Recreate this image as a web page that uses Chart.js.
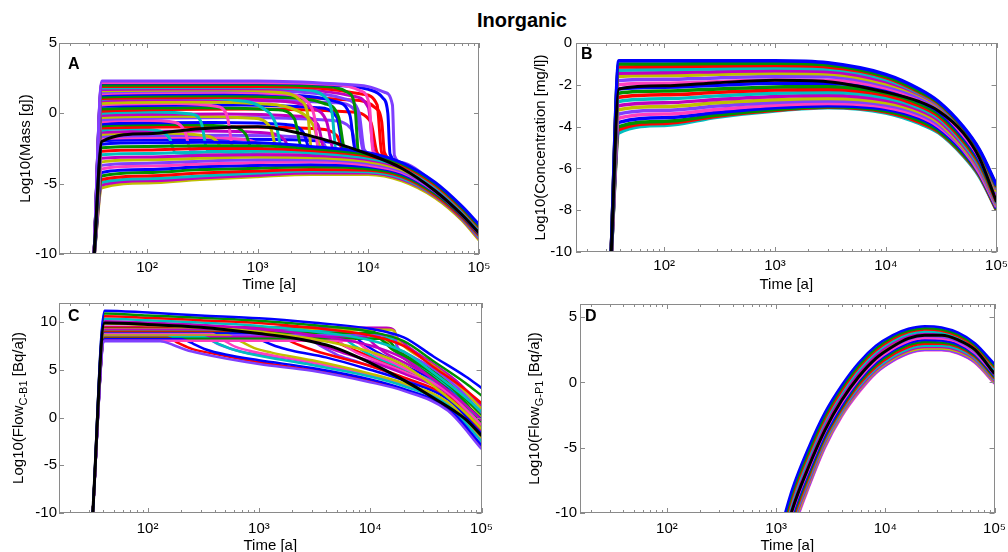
<!DOCTYPE html>
<html>
<head>
<meta charset="utf-8">
<script src="https://cdn.jsdelivr.net/npm/chart.js@4.4.1/dist/chart.umd.min.js"></script>
<style>
  html, body { margin: 0; padding: 0; background: #fff; overflow: hidden; }
  #page { position: relative; width: 1008px; height: 552px; overflow: hidden; font-family: 'Liberation Sans', Arial, sans-serif; }
  #title { position: absolute; left: 422px; top: 8px; width: 200px; text-align: center; font-weight: bold; font-size: 20px; line-height: 24px; color: #000; }
  canvas { position: absolute; }
</style>
</head>
<body>
<div id="page">
  <div id="title">Inorganic</div>
  <canvas id="chartA" width="500" height="270" style="left:0;top:30px"></canvas>
  <canvas id="chartB" width="513" height="270" style="left:500px;top:30px"></canvas>
  <canvas id="chartC" width="500" height="270" style="left:0;top:290px"></canvas>
  <canvas id="chartD" width="513" height="270" style="left:500px;top:290px"></canvas>
</div>
<script>
// x axis (time) ticks and labels
const timeTicks = [20, 30, 40, 50, 60, 70, 80, 90, 100, 200, 300, 400, 500, 600, 700, 800, 900,
  1000, 2000, 3000, 4000, 5000, 6000, 7000, 8000, 9000, 10000, 20000, 30000, 40000, 50000,
  60000, 70000, 80000, 90000, 100000];
const timeLabels = { 100: '10²', 1000: '10³', 10000: '10⁴', 100000: '10⁵' };

const yTicksA = [-10, -5, 0, 5];
const yTicksB = [-10, -8, -6, -4, -2, 0];
const yTicksC = [-10, -5, 0, 5, 10];
const yTicksD = [-10, -5, 0, 5];

const palette = ['#0000ff', '#009000', '#ff0000', '#00bfbf', '#bf00bf', '#bfbf00', '#7f3fff', '#ff3fbf'];

// ---- Panel A : Log10(Mass [g]) ----
const meanATime = [33, 39, 100, 300, 1000, 3000, 10000, 20000, 40000, 70000, 100000];
const meanAValue = [-10.5, -2.0, -1.45, -1.1, -0.95, -1.6, -2.9, -3.9, -5.5, -7.2, -8.5];

const timeA = [33, 39, 100, 300, 1000, 3000, 10000, 20000, 40000, 70000, 100000];
const lowerA = [
  [-10.5, -2.2, -2.1, -2.05, -2.1, -2.35, -2.8, -3.5, -4.9, -6.6, -7.9],
  [-10.5, -2.45, -2.35, -2.3, -2.3, -2.5, -2.95, -3.6, -5.0, -6.7, -8.0],
  [-10.5, -2.7, -2.6, -2.5, -2.5, -2.65, -3.05, -3.7, -5.1, -6.8, -8.1],
  [-10.5, -2.95, -2.85, -2.75, -2.7, -2.8, -3.2, -3.8, -5.2, -6.9, -8.2],
  [-10.5, -3.2, -3.1, -3.0, -2.95, -3.0, -3.3, -3.9, -5.3, -7.0, -8.3],
  [-10.5, -3.45, -3.3, -3.2, -3.1, -3.15, -3.45, -4.0, -5.4, -7.05, -8.35],
  [-10.5, -3.7, -3.55, -3.4, -3.3, -3.3, -3.55, -4.1, -5.5, -7.1, -8.4],
  [-10.5, -3.95, -3.75, -3.6, -3.5, -3.45, -3.7, -4.2, -5.55, -7.2, -8.5],
  [-10.5, -4.2, -4.0, -3.8, -3.7, -3.65, -3.8, -4.3, -5.6, -7.25, -8.55],
  [-10.5, -4.45, -4.2, -4.0, -3.9, -3.8, -3.95, -4.4, -5.7, -7.3, -8.6],
  [-10.5, -4.7, -4.45, -4.25, -4.1, -4.0, -4.05, -4.5, -5.8, -7.4, -8.7],
  [-10.5, -4.9, -4.65, -4.45, -4.25, -4.1, -4.15, -4.6, -5.85, -7.45, -8.8],
  [-10.5, -5.1, -4.8, -4.6, -4.4, -4.25, -4.25, -4.7, -5.9, -7.5, -8.9],
  [-10.5, -5.3, -4.95, -4.7, -4.5, -4.35, -4.35, -4.8, -6.0, -7.6, -9.0]
];
// high curves that fall off late: [time, value] pairs
const upperA = [
  [[33, -10.5], [39, 2.3], [1000, 2.3], [5000, 2.1], [10000, 1.9], [14000, 1.5], [16500, 0.6], [17200, -3.0], [20000, -3.5], [40000, -5.0], [70000, -6.7], [100000, -8.0]],
  [[33, -10.5], [39, 2.2], [1000, 2.2], [5000, 2.05], [8500, 1.6], [10200, 0.6], [11000, -2.7], [20000, -3.7], [40000, -5.2], [70000, -6.9], [100000, -8.2]],
  [[33, -10.5], [39, 2.15], [1000, 2.15], [5000, 2.0], [10000, 1.7], [13500, 1.1], [15000, 0.0], [15700, -2.9], [20000, -3.6], [40000, -5.1], [70000, -6.8], [100000, -8.1]],
  [[33, -10.5], [39, 2.0], [1000, 2.05], [4000, 1.9], [6500, 1.5], [7600, 0.3], [8100, -2.6], [10000, -2.9], [20000, -3.7], [40000, -5.2], [70000, -6.9], [100000, -8.2]],
  [[33, -10.5], [39, 1.9], [1000, 1.9], [4000, 1.75], [9000, 1.35], [12000, 0.6], [13200, -2.8], [20000, -3.7], [40000, -5.2], [70000, -6.9], [100000, -8.2]],
  [[33, -10.5], [39, 1.8], [800, 1.85], [2500, 1.7], [4000, 1.2], [4700, 0.0], [5100, -2.5], [10000, -2.95], [20000, -3.8], [40000, -5.25], [70000, -6.95], [100000, -8.25]],
  [[33, -10.5], [39, 1.7], [800, 1.75], [3000, 1.65], [7000, 1.25], [10000, 0.4], [11200, -2.7], [20000, -3.8], [40000, -5.3], [70000, -7.0], [100000, -8.3]],
  [[33, -10.5], [39, 1.6], [500, 1.65], [1500, 1.5], [2400, 0.95], [2850, -0.2], [3050, -2.5], [10000, -3.0], [20000, -3.85], [40000, -5.3], [70000, -7.0], [100000, -8.3]],
  [[33, -10.5], [39, 1.5], [600, 1.6], [2500, 1.5], [6000, 1.05], [8200, 0.1], [9200, -2.6], [20000, -3.9], [40000, -5.4], [70000, -7.1], [100000, -8.4]],
  [[33, -10.5], [39, 1.4], [500, 1.5], [1800, 1.35], [2900, 0.7], [3300, -0.5], [3500, -2.5], [10000, -3.0], [20000, -3.85], [40000, -5.3], [70000, -7.0], [100000, -8.35]],
  [[33, -10.5], [39, 1.3], [500, 1.4], [2000, 1.3], [5000, 0.85], [6800, -0.1], [7600, -2.6], [10000, -2.9], [20000, -3.9], [40000, -5.35], [70000, -7.05], [100000, -8.35]],
  [[33, -10.5], [39, 1.15], [400, 1.25], [1500, 1.15], [4000, 0.7], [5400, -0.3], [6100, -2.5], [10000, -2.95], [20000, -3.8], [40000, -5.3], [70000, -7.0], [100000, -8.3]],
  [[33, -10.5], [39, 1.05], [1000, 1.15], [7000, 0.95], [11500, 0.4], [13200, -0.6], [14000, -2.8], [20000, -3.7], [40000, -5.2], [70000, -6.9], [100000, -8.2]],
  [[33, -10.5], [39, 1.0], [200, 1.1], [600, 0.95], [1100, 0.4], [1450, -0.7], [1650, -2.4], [10000, -3.05], [20000, -3.9], [40000, -5.4], [70000, -7.1], [100000, -8.4]],
  [[33, -10.5], [39, 0.9], [300, 1.0], [1200, 0.9], [3200, 0.35], [4200, -0.6], [4800, -2.5], [10000, -3.0], [20000, -3.85], [40000, -5.3], [70000, -7.0], [100000, -8.35]],
  [[33, -10.5], [39, 0.7], [250, 0.8], [900, 0.7], [2400, 0.1], [3200, -0.9], [3700, -2.4], [10000, -3.1], [20000, -3.9], [40000, -5.35], [70000, -7.05], [100000, -8.4]]
];
// middle curves that arc down at mixed times: [time, value] pairs
const middleA = [
  [[33, -10.5], [39, 0.85], [1000, 0.95], [5000, 0.75], [7800, 0.1], [9000, -2.7], [20000, -3.8], [40000, -5.3], [70000, -7.0], [100000, -8.3]],
  [[33, -10.5], [39, 0.6], [180, 0.7], [420, 0.5], [530, -0.2], [600, -2.5], [10000, -3.0], [20000, -3.85], [40000, -5.3], [70000, -7.0], [100000, -8.35]],
  [[33, -10.5], [39, 0.5], [700, 0.6], [3500, 0.4], [5200, -0.3], [6000, -2.6], [10000, -2.95], [20000, -3.85], [40000, -5.3], [70000, -7.0], [100000, -8.35]],
  [[33, -10.5], [39, 0.3], [300, 0.4], [1500, 0.25], [2150, -0.4], [2500, -2.5], [10000, -3.05], [20000, -3.9], [40000, -5.35], [70000, -7.05], [100000, -8.4]],
  [[33, -10.5], [39, 0.15], [1000, 0.3], [7000, 0.1], [10500, -0.6], [12000, -2.8], [20000, -3.75], [40000, -5.25], [70000, -6.95], [100000, -8.3]],
  [[33, -10.5], [39, 0.0], [110, 0.1], [250, -0.05], [310, -0.7], [350, -2.6], [10000, -3.1], [20000, -3.95], [40000, -5.4], [70000, -7.1], [100000, -8.45]],
  [[33, -10.5], [39, -0.15], [500, -0.05], [2400, -0.2], [3500, -0.8], [4000, -2.6], [10000, -3.0], [20000, -3.9], [40000, -5.35], [70000, -7.05], [100000, -8.4]],
  [[33, -10.5], [39, -0.3], [200, -0.2], [900, -0.35], [1300, -1.0], [1500, -2.6], [10000, -3.1], [20000, -3.95], [40000, -5.4], [70000, -7.1], [100000, -8.45]],
  [[33, -10.5], [39, -0.45], [800, -0.3], [4500, -0.5], [7000, -1.1], [8000, -2.7], [20000, -3.85], [40000, -5.3], [70000, -7.0], [100000, -8.35]],
  [[33, -10.5], [39, -0.6], [90, -0.5], [180, -0.65], [220, -1.3], [250, -2.7], [10000, -3.15], [20000, -4.0], [40000, -5.45], [70000, -7.15], [100000, -8.5]],
  [[33, -10.5], [39, -0.75], [400, -0.65], [1800, -0.8], [2600, -1.4], [3000, -2.7], [10000, -3.1], [20000, -3.95], [40000, -5.4], [70000, -7.1], [100000, -8.45]],
  [[33, -10.5], [39, -0.9], [150, -0.8], [550, -0.95], [780, -1.5], [900, -2.7], [10000, -3.15], [20000, -4.0], [40000, -5.45], [70000, -7.15], [100000, -8.5]],
  [[33, -10.5], [39, -1.05], [600, -0.95], [3500, -1.1], [5200, -1.6], [6000, -2.8], [10000, -3.05], [20000, -3.9], [40000, -5.35], [70000, -7.05], [100000, -8.4]],
  [[33, -10.5], [39, -1.2], [70, -1.1], [130, -1.25], [160, -1.8], [180, -2.8], [10000, -3.2], [20000, -4.05], [40000, -5.5], [70000, -7.2], [100000, -8.55]],
  [[33, -10.5], [39, -1.35], [300, -1.25], [1200, -1.4], [1750, -1.9], [2000, -2.8], [10000, -3.15], [20000, -4.0], [40000, -5.45], [70000, -7.15], [100000, -8.5]],
  [[33, -10.5], [39, -1.5], [120, -1.4], [300, -1.55], [430, -2.0], [500, -2.9], [10000, -3.2], [20000, -4.05], [40000, -5.5], [70000, -7.2], [100000, -8.55]],
  [[33, -10.5], [39, -1.65], [500, -1.55], [2700, -1.7], [3900, -2.1], [4500, -2.9], [10000, -3.1], [20000, -3.95], [40000, -5.4], [70000, -7.1], [100000, -8.45]],
  [[33, -10.5], [39, -1.8], [200, -1.7], [700, -1.85], [1050, -2.3], [1200, -3.0], [10000, -3.25], [20000, -4.1], [40000, -5.55], [70000, -7.25], [100000, -8.6]],
  [[33, -10.5], [39, -1.95], [800, -1.85], [4000, -2.0], [6000, -2.4], [7000, -3.0], [20000, -3.95], [40000, -5.4], [70000, -7.1], [100000, -8.45]]
];

// ---- Panel B : Log10(Concentration [mg/l]) ----
const meanBTime = [33, 39, 100, 300, 1000, 3000, 10000, 20000, 30000, 50000, 70000, 100000];
const meanBValue = [-10.5, -2.2, -2.05, -1.9, -1.78, -1.85, -2.35, -2.8, -3.25, -4.3, -5.5, -7.6];

const timeB = [33, 39, 100, 300, 1000, 3000, 10000, 20000, 30000, 50000, 70000, 100000];
const curvesB = [
  [-10.5, -0.85, -0.85, -0.85, -0.85, -0.95, -1.5, -2.2, -2.8, -4.0, -5.1, -6.8],
  [-10.5, -1.0, -1.0, -0.98, -0.97, -1.05, -1.6, -2.3, -2.85, -4.05, -5.15, -6.85],
  [-10.5, -1.15, -1.12, -1.1, -1.08, -1.15, -1.65, -2.35, -2.9, -4.1, -5.2, -6.9],
  [-10.5, -1.3, -1.27, -1.23, -1.2, -1.25, -1.75, -2.4, -2.95, -4.15, -5.25, -6.95],
  [-10.5, -1.45, -1.42, -1.37, -1.33, -1.37, -1.85, -2.45, -3.0, -4.2, -5.3, -7.0],
  [-10.5, -1.6, -1.56, -1.5, -1.45, -1.48, -1.95, -2.5, -3.05, -4.25, -5.35, -7.1],
  [-10.5, -1.8, -1.74, -1.67, -1.6, -1.62, -2.05, -2.6, -3.1, -4.3, -5.4, -7.2],
  [-10.5, -2.0, -1.93, -1.85, -1.77, -1.78, -2.15, -2.7, -3.2, -4.4, -5.5, -7.3],
  [-10.5, -2.2, -2.12, -2.02, -1.93, -1.93, -2.25, -2.8, -3.3, -4.5, -5.6, -7.4],
  [-10.5, -2.4, -2.3, -2.2, -2.1, -2.08, -2.4, -2.9, -3.4, -4.6, -5.7, -7.5],
  [-10.5, -2.6, -2.48, -2.36, -2.25, -2.22, -2.5, -3.0, -3.5, -4.7, -5.8, -7.6],
  [-10.5, -2.8, -2.67, -2.53, -2.4, -2.37, -2.62, -3.1, -3.6, -4.8, -5.9, -7.65],
  [-10.5, -3.0, -2.86, -2.7, -2.56, -2.51, -2.74, -3.2, -3.7, -4.9, -6.0, -7.7],
  [-10.5, -3.2, -3.04, -2.86, -2.71, -2.65, -2.86, -3.3, -3.8, -5.0, -6.05, -7.75],
  [-10.5, -3.4, -3.22, -3.02, -2.85, -2.78, -2.97, -3.4, -3.9, -5.05, -6.1, -7.8],
  [-10.5, -3.6, -3.4, -3.18, -2.98, -2.9, -3.07, -3.5, -4.0, -5.1, -6.2, -7.85],
  [-10.5, -3.8, -3.58, -3.33, -3.1, -3.0, -3.17, -3.6, -4.1, -5.2, -6.25, -7.9],
  [-10.5, -4.0, -3.75, -3.45, -3.18, -3.05, -3.25, -3.7, -4.2, -5.3, -6.3, -7.95],
  [-10.5, -4.15, -3.85, -3.5, -3.22, -3.08, -3.3, -3.78, -4.25, -5.35, -6.35, -8.0],
  [-10.5, -4.3, -3.95, -3.55, -3.25, -3.1, -3.35, -3.85, -4.3, -5.4, -6.4, -8.0]
];

// ---- Panel C : Log10(Flow C-B1 [Bq/a]) ----
const meanCTime = [32, 41, 100, 300, 1000, 2350, 4600, 9300, 18700, 36500, 72000, 100000];
const meanCValue = [-10.5, 9.9, 9.75, 9.45, 8.8, 8.2, 7.4, 5.9, 4.1, 2.1, -0.2, -1.9];

const timeC = [32, 41, 100, 300, 1000, 3000, 10000, 20000, 37000, 72000, 100000];
const slopingC = [
  [-10.5, 11.2, 11.0, 10.7, 10.4, 9.95, 9.3, 8.4, 6.4, 4.3, 3.1],
  [-10.5, 10.9, 10.7, 10.45, 10.15, 9.7, 9.0, 8.0, 5.9, 3.6, 2.3],
  [-10.5, 10.6, 10.45, 10.2, 9.9, 9.4, 8.6, 7.5, 5.3, 2.9, 1.5],
  [-10.5, 10.35, 10.2, 9.95, 9.6, 9.05, 8.1, 6.9, 4.7, 2.1, 0.6],
  [-10.5, 10.1, 9.95, 9.7, 9.3, 8.65, 7.55, 6.2, 4.0, 1.3, -0.3],
  [-10.5, 9.85, 9.7, 9.45, 9.0, 8.25, 6.9, 5.5, 3.3, 0.5, -1.2]
];
// flat curves that bend down at different times: [time, value] pairs
const flatC = [
  [[32, -10.5], [41, 8.0], [130, 8.0], [170, 7.6], [220, 7.1], [300, 6.7], [1000, 5.6], [3000, 4.9], [10000, 3.7], [20000, 2.8], [50000, 0.7], [100000, -3.3]],
  [[32, -10.5], [41, 8.05], [7000, 8.05], [9000, 7.3], [11000, 6.6], [15000, 5.9], [20000, 5.2], [50000, 2.6], [100000, -0.8]],
  [[32, -10.5], [41, 8.2], [200, 8.2], [260, 7.7], [340, 7.1], [500, 6.6], [1000, 6.0], [3000, 5.2], [10000, 4.0], [20000, 3.0], [50000, 1.0], [100000, -2.9]],
  [[32, -10.5], [41, 8.25], [13500, 8.25], [16000, 7.6], [17500, 6.8], [20000, 6.2], [35000, 4.4], [60000, 2.0], [100000, -1.0]],
  [[32, -10.5], [41, 8.35], [150, 8.35], [190, 7.8], [250, 7.2], [350, 6.8], [1000, 5.8], [3000, 5.0], [10000, 3.9], [20000, 2.9], [50000, 0.9], [100000, -3.1]],
  [[32, -10.5], [41, 8.4], [320, 8.4], [420, 7.8], [560, 7.2], [800, 6.7], [3000, 5.5], [10000, 4.3], [20000, 3.3], [50000, 1.3], [100000, -2.5]],
  [[32, -10.5], [41, 8.45], [9000, 8.45], [11000, 7.6], [13500, 6.8], [20000, 5.8], [35000, 4.2], [60000, 1.8], [100000, -1.2]],
  [[32, -10.5], [41, 8.6], [520, 8.6], [680, 8.0], [900, 7.3], [1300, 6.8], [3000, 6.0], [10000, 4.6], [20000, 3.6], [50000, 1.6], [100000, -2.1]],
  [[32, -10.5], [41, 8.65], [15500, 8.6], [17000, 8.1], [17600, 7.4], [20000, 6.9], [35000, 5.3], [60000, 3.2], [100000, 0.5]],
  [[32, -10.5], [41, 8.75], [380, 8.75], [480, 8.1], [620, 7.4], [900, 6.9], [3000, 5.8], [10000, 4.4], [20000, 3.4], [50000, 1.5], [100000, -2.3]],
  [[32, -10.5], [41, 8.8], [800, 8.8], [1050, 8.1], [1400, 7.5], [2000, 7.0], [4000, 6.3], [10000, 5.0], [20000, 3.9], [50000, 1.9], [100000, -1.7]],
  [[32, -10.5], [41, 8.85], [11000, 8.85], [13000, 8.0], [15500, 7.2], [20000, 6.4], [35000, 4.8], [60000, 2.6], [100000, -0.5]],
  [[32, -10.5], [41, 9.0], [1300, 9.0], [1700, 8.3], [2300, 7.6], [3200, 7.0], [10000, 5.4], [20000, 4.2], [50000, 2.2], [100000, -1.3]],
  [[32, -10.5], [41, 9.05], [4800, 9.05], [6000, 8.2], [7500, 7.4], [10000, 6.6], [20000, 5.1], [50000, 2.9], [100000, -0.4]],
  [[32, -10.5], [41, 9.2], [2000, 9.2], [2600, 8.5], [3500, 7.7], [5000, 7.0], [10000, 5.9], [20000, 4.6], [50000, 2.5], [100000, -0.9]],
  [[32, -10.5], [41, 9.25], [15000, 9.2], [16800, 8.9], [17300, 8.3], [20000, 7.5], [35000, 5.6], [60000, 3.5], [100000, 0.9]],
  [[32, -10.5], [41, 8.1], [2800, 8.1], [3700, 7.4], [5000, 6.6], [7000, 6.0], [10000, 5.4], [20000, 4.1], [50000, 2.0], [100000, -1.5]],
  [[32, -10.5], [41, 8.5], [4500, 8.5], [5800, 7.6], [7500, 6.8], [10000, 6.2], [20000, 4.8], [50000, 2.7], [100000, -0.6]],
  [[32, -10.5], [41, 8.9], [6500, 8.9], [8300, 7.9], [11000, 7.0], [15000, 6.2], [20000, 5.5], [50000, 3.0], [100000, -0.2]],
  [[32, -10.5], [41, 9.3], [10000, 9.2], [12500, 8.2], [16000, 7.3], [20000, 6.6], [35000, 5.0], [60000, 2.8], [100000, 0.3]],
  [[32, -10.5], [41, 9.4], [3200, 9.4], [4000, 8.6], [5200, 7.8], [7000, 7.1], [10000, 6.4], [20000, 4.9], [50000, 2.8], [100000, -0.7]],
  [[32, -10.5], [41, 8.3], [15000, 8.3], [17000, 7.8], [17500, 7.0], [20000, 6.3], [35000, 4.6], [60000, 2.3], [100000, -0.4]],
  [[32, -10.5], [41, 9.5], [14000, 9.4], [16500, 9.1], [17000, 8.6], [20000, 7.8], [35000, 5.8], [60000, 3.8], [100000, 1.2]],
  [[32, -10.5], [41, 8.7], [12000, 8.7], [14000, 8.2], [15000, 7.4], [20000, 6.7], [35000, 5.2], [60000, 3.0], [100000, 0.0]],
  [[32, -10.5], [41, 9.1], [240, 9.1], [320, 8.5], [450, 7.6], [700, 6.9], [2000, 6.1], [10000, 4.5], [20000, 3.4], [50000, 1.4], [100000, -2.4]]
];

// ---- Panel D : Log10(Flow G-P1 [Bq/a]) ----
const timeD = [1000, 1400, 2000, 2800, 4000, 5700, 8200, 11600, 16300, 23000, 32700, 46400, 66000, 100000];
const meanDValue = [-14.5, -9.8, -6.4, -3.65, -1.35, 0.43, 1.84, 2.73, 3.37, 3.6, 3.6, 3.25, 2.5, 0.65];
const curvesD = [
  [-12.5, -8.2, -4.9, -2.3, -0.2, 1.5, 2.8, 3.6, 4.1, 4.3, 4.2, 3.8, 3.0, 1.4],
  [-12.8, -8.5, -5.2, -2.55, -0.4, 1.3, 2.6, 3.45, 3.95, 4.15, 4.05, 3.65, 2.85, 1.25],
  [-13.1, -8.75, -5.4, -2.75, -0.6, 1.15, 2.45, 3.3, 3.85, 4.05, 3.95, 3.55, 2.75, 1.15],
  [-13.4, -9.0, -5.65, -2.95, -0.8, 0.95, 2.3, 3.15, 3.7, 3.9, 3.8, 3.45, 2.65, 1.0],
  [-13.7, -9.3, -5.9, -3.2, -1.0, 0.75, 2.1, 3.0, 3.55, 3.75, 3.7, 3.35, 2.55, 0.9],
  [-14.0, -9.55, -6.15, -3.4, -1.2, 0.6, 1.95, 2.85, 3.45, 3.65, 3.6, 3.25, 2.45, 0.8],
  [-14.3, -9.8, -6.4, -3.6, -1.4, 0.4, 1.8, 2.7, 3.3, 3.55, 3.5, 3.15, 2.35, 0.7],
  [-14.6, -10.0, -6.6, -3.8, -1.55, 0.25, 1.65, 2.55, 3.15, 3.4, 3.35, 3.05, 2.25, 0.6],
  [-14.8, -10.25, -6.8, -4.0, -1.75, 0.1, 1.5, 2.4, 3.0, 3.25, 3.2, 2.9, 2.15, 0.5],
  [-15.0, -10.45, -7.0, -4.15, -1.9, -0.05, 1.35, 2.25, 2.85, 3.1, 3.05, 2.8, 2.05, 0.4],
  [-15.2, -10.7, -7.2, -4.3, -2.05, -0.2, 1.2, 2.1, 2.7, 2.95, 2.95, 2.7, 1.95, 0.3],
  [-15.4, -10.9, -7.4, -4.45, -2.2, -0.35, 1.05, 1.95, 2.55, 2.8, 2.8, 2.55, 1.85, 0.2],
  [-15.6, -11.1, -7.6, -4.6, -2.3, -0.5, 0.95, 1.85, 2.45, 2.7, 2.7, 2.45, 1.75, 0.1],
  [-15.7, -11.3, -7.75, -4.75, -2.4, -0.6, 0.85, 1.75, 2.35, 2.6, 2.6, 2.35, 1.65, 0.0],
  [-15.85, -11.45, -7.9, -4.9, -2.5, -0.7, 0.75, 1.65, 2.25, 2.5, 2.5, 2.25, 1.55, -0.05],
  [-16.0, -11.6, -8.0, -5.0, -2.6, -0.8, 0.7, 1.6, 2.2, 2.45, 2.45, 2.2, 1.5, -0.1]
];

function fromGrid(times, values) {
  return times.map((t, i) => ({ x: t, y: values[i] }));
}
function fromPairs(pairs) {
  return pairs.map(p => ({ x: p[0], y: p[1] }));
}

// box and inward tick marks, drawn like the original plotting tool
function framePlugin() {
  return {
    id: 'frame',
    afterDatasetsDraw(chart) {
      const { ctx, chartArea: a, scales: { x, y } } = chart;
      ctx.save();
      ctx.strokeStyle = '#8a8a8a';
      ctx.lineWidth = 1;
      ctx.beginPath();
      x.ticks.forEach(tk => {
        const px = Math.round(x.getPixelForValue(tk.value)) + 0.5;
        const len = timeLabels[tk.value] ? 5 : 3;
        ctx.moveTo(px, a.bottom); ctx.lineTo(px, a.bottom - len);
        ctx.moveTo(px, a.top); ctx.lineTo(px, a.top + len);
      });
      y.ticks.forEach(tk => {
        const py = Math.round(y.getPixelForValue(tk.value)) + 0.5;
        ctx.moveTo(a.left, py); ctx.lineTo(a.left + 5, py);
        ctx.moveTo(a.right, py); ctx.lineTo(a.right - 5, py);
      });
      ctx.stroke();
      ctx.strokeRect(Math.round(a.left) + 0.5, Math.round(a.top) + 0.5,
        Math.round(a.right - a.left) - 1, Math.round(a.bottom - a.top) - 1);
      ctx.restore();
    }
  };
}

// rotated y title, parts = [[text, isSubscript], ...]
function yTitlePlugin(parts, xPos) {
  return {
    id: 'ytitle',
    afterDraw(chart) {
      const { ctx, chartArea: a } = chart;
      const mainFont = '15px "Liberation Sans", Arial, sans-serif';
      const subFont = '11px "Liberation Sans", Arial, sans-serif';
      ctx.save();
      ctx.translate(xPos, (a.top + a.bottom) / 2);
      ctx.rotate(-Math.PI / 2);
      ctx.fillStyle = '#000';
      ctx.textBaseline = 'middle';
      ctx.textAlign = 'left';
      let total = 0;
      parts.forEach(p => { ctx.font = p[1] ? subFont : mainFont; total += ctx.measureText(p[0]).width; });
      let pos = -total / 2;
      parts.forEach(p => {
        ctx.font = p[1] ? subFont : mainFont;
        ctx.fillText(p[0], pos, p[1] ? 5 : 0);
        pos += ctx.measureText(p[0]).width;
      });
      ctx.restore();
    }
  };
}

function letterPlugin(letter, dx, dy) {
  return {
    id: 'letter',
    afterDraw(chart) {
      const { ctx, chartArea: a } = chart;
      ctx.save();
      ctx.font = 'bold 16px "Liberation Sans", Arial, sans-serif';
      ctx.fillStyle = '#000';
      ctx.textBaseline = 'middle';
      ctx.fillText(letter, a.left + dx, a.top + dy);
      ctx.restore();
    }
  };
}

function buildPanel(id, p) {
  const datasets = [{
    data: p.mean, borderColor: '#000', borderWidth: 3
  }].concat(p.curves.map((c, i) => ({
    data: c, borderColor: palette[i % palette.length], borderWidth: p.lineWidth
  })));
  datasets.forEach(d => { d.clip = 0; d.pointRadius = 0; d.cubicInterpolationMode = 'monotone'; d.borderJoinStyle = 'round'; });

  new Chart(document.getElementById(id), {
    type: 'line',
    data: { datasets },
    options: {
      responsive: false,
      animation: false,
      events: [],
      layout: { padding: p.padding },
      plugins: { legend: { display: false }, tooltip: { enabled: false } },
      scales: {
        x: {
          type: 'logarithmic', min: 16, max: 100000,
          afterBuildTicks: s => { s.ticks = timeTicks.map(v => ({ value: v })); },
          afterFit: s => { s.height = p.xHeight; },
          grid: { display: false, drawTicks: false },
          border: { display: false },
          ticks: { autoSkip: false, maxRotation: 0, padding: p.xPad, color: '#000', font: { size: 15 },
            callback: v => timeLabels[v] || '' },
          title: { display: true, text: 'Time [a]', color: '#000', font: { size: 15 },
            padding: { top: 0, bottom: p.xTitlePad } }
        },
        y: {
          type: 'linear', min: p.yMin, max: p.yMax,
          afterBuildTicks: s => { s.ticks = p.yTicks.map(v => ({ value: v })); },
          afterFit: s => { s.width = p.yWidth; },
          grid: { display: false, drawTicks: false },
          border: { display: false },
          ticks: { padding: p.yPad, color: '#000', font: { size: 15 }, callback: v => String(v) }
        }
      }
    },
    plugins: [framePlugin(), yTitlePlugin(p.yTitle, p.yTitleX), letterPlugin(p.letter, p.letterDx, p.letterDy)]
  });
}

Chart.defaults.font.family = '"Liberation Sans", Arial, sans-serif';

buildPanel('chartA', {
  mean: fromGrid(meanATime, meanAValue),
  curves: lowerA.map(v => fromGrid(timeA, v)).concat(upperA.map(fromPairs), middleA.map(fromPairs)),
  lineWidth: 3,
  padding: { left: 0, top: 13, right: 21, bottom: 0 },
  xHeight: 46, xPad: 5, xTitlePad: 6, yWidth: 59, yPad: 2,
  yMin: -10, yMax: 5, yTicks: yTicksA,
  yTitle: [['Log10(Mass [g])', false]], yTitleX: 26,
  letter: 'A', letterDx: 9, letterDy: 22
});

buildPanel('chartB', {
  mean: fromGrid(meanBTime, meanBValue),
  curves: curvesB.map(v => fromGrid(timeB, v)),
  lineWidth: 3.5,
  padding: { left: 0, top: 13, right: 16, bottom: 0 },
  xHeight: 48, xPad: 5, xTitlePad: 6, yWidth: 76, yPad: 4,
  yMin: -10, yMax: 0, yTicks: yTicksB,
  yTitle: [['Log10(Concentration [mg/l])', false]], yTitleX: 41,
  letter: 'B', letterDx: 5, letterDy: 12
});

buildPanel('chartC', {
  mean: fromGrid(meanCTime, meanCValue),
  curves: slopingC.map(v => fromGrid(timeC, v)).concat(flatC.map(fromPairs)),
  lineWidth: 2.5,
  padding: { left: 0, top: 13, right: 18, bottom: 0 },
  xHeight: 47, xPad: 7, xTitlePad: 5, yWidth: 59, yPad: 2,
  yMin: -10, yMax: 12, yTicks: yTicksC,
  yTitle: [['Log10(Flow', false], ['C-B1', true], [' [Bq/a])', false]], yTitleX: 19,
  letter: 'C', letterDx: 9, letterDy: 14
});

buildPanel('chartD', {
  mean: fromGrid(timeD, meanDValue),
  curves: curvesD.map(v => fromGrid(timeD, v)),
  lineWidth: 2.5,
  padding: { left: 0, top: 14, right: 16, bottom: 0 },
  xHeight: 47, xPad: 7, xTitlePad: 5, yWidth: 80, yPad: 3,
  yMin: -10, yMax: 6, yTicks: yTicksD,
  yTitle: [['Log10(Flow', false], ['G-P1', true], [' [Bq/a])', false]], yTitleX: 35,
  letter: 'D', letterDx: 5, letterDy: 13
});
</script>
</body>
</html>
